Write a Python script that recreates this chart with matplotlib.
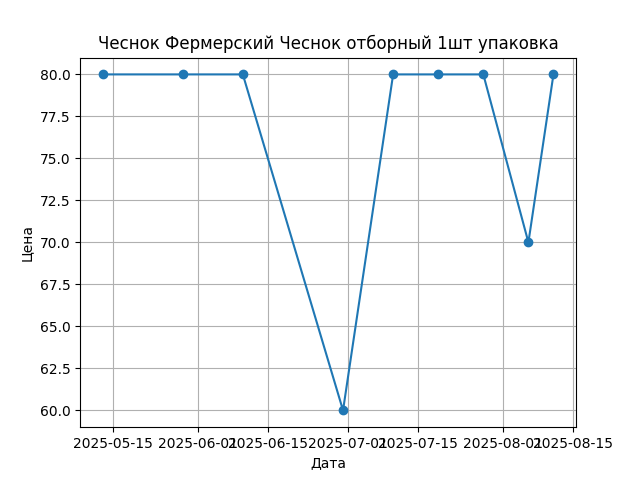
import matplotlib
matplotlib.use("Agg")
import matplotlib.pyplot as plt
import pandas as pd

dates = ["2025-05-13", "2025-05-29", "2025-06-10", "2025-06-30", "2025-07-10",
         "2025-07-19", "2025-07-28", "2025-08-06", "2025-08-11"]
prices = [80, 80, 80, 60, 80, 80, 80, 70, 80]

dates = pd.to_datetime(dates)

fig, ax = plt.subplots(figsize=(6.4, 4.8), dpi=100)
ax.plot(dates, prices, marker="o")
ax.set_title("Чеснок Фермерский Чеснок отборный 1шт упаковка")
ax.set_xlabel("Дата")
ax.set_ylabel("Цена")
ax.grid(True)
fig.savefig("out.png")
